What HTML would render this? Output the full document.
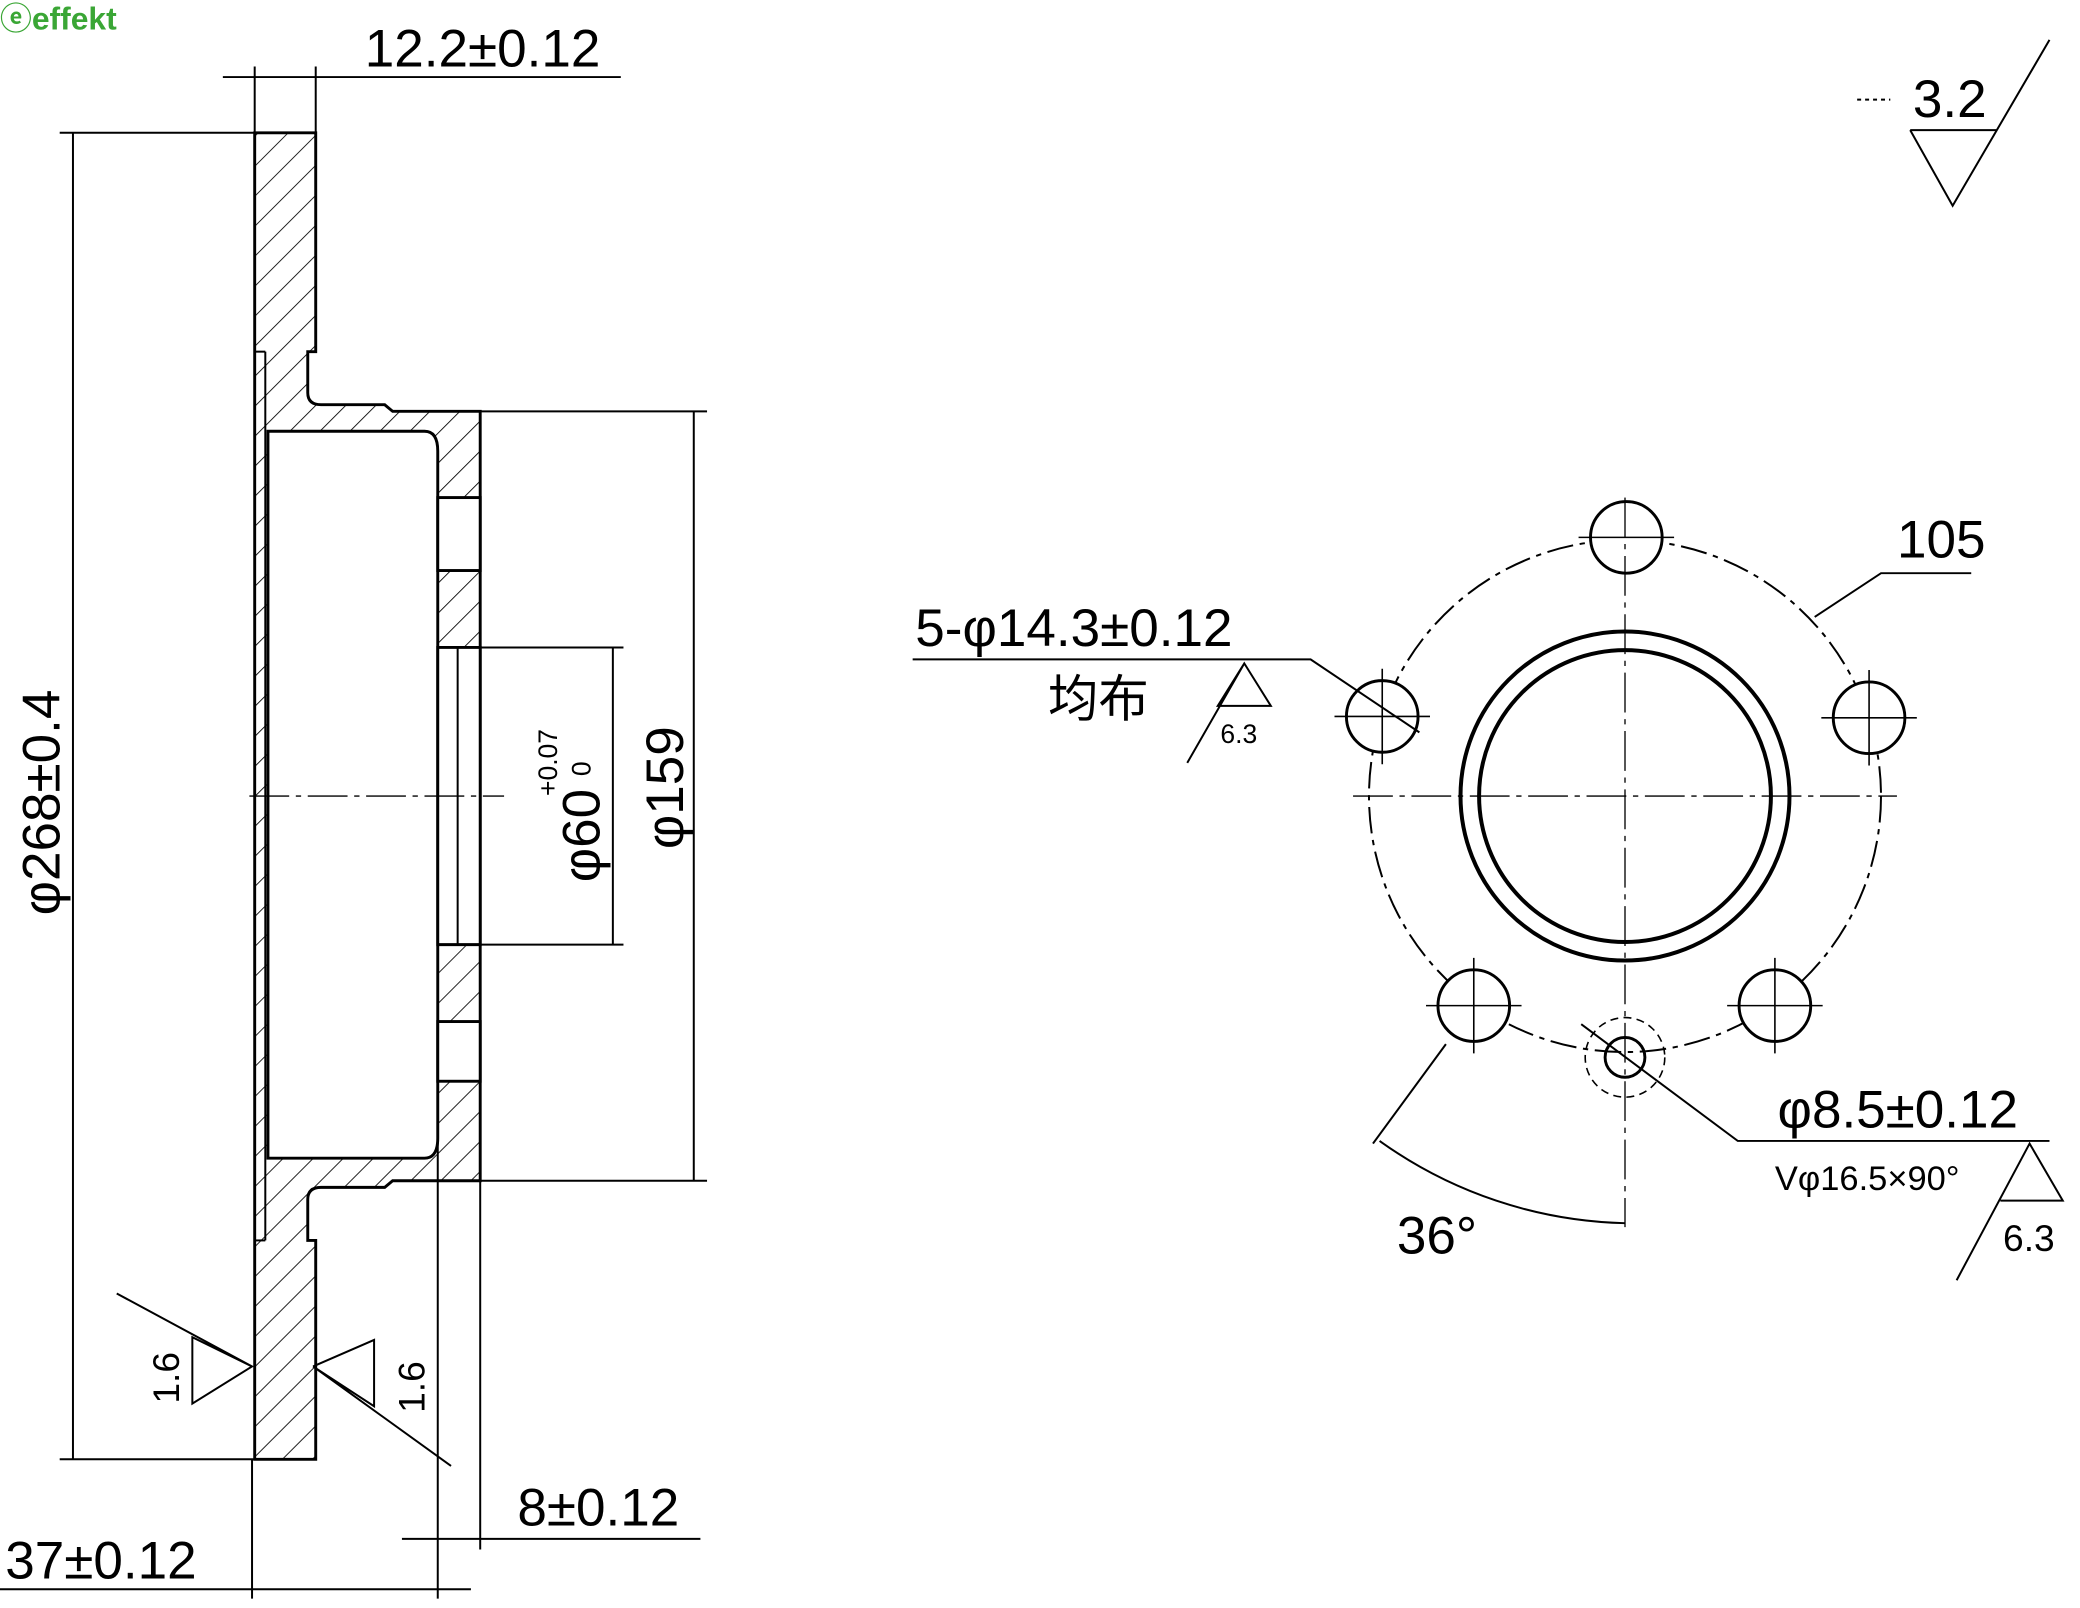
<!DOCTYPE html>
<html><head><meta charset="utf-8"><style>
html,body{margin:0;padding:0;background:#fff;}
svg{display:block;}
text{font-family:"Liberation Sans","Noto Sans CJK SC",sans-serif;fill:#000;}
</style></head><body>
<svg width="2080" height="1608" viewBox="0 0 1568 1212" xmlns="http://www.w3.org/2000/svg">
<defs>
<pattern id="h" patternUnits="userSpaceOnUse" width="16" height="16" patternTransform="rotate(45)">
<rect width="16" height="16" fill="#fff"/><line x1="0" y1="0" x2="0" y2="16" stroke="#000" stroke-width="1.3"/>
</pattern>
</defs>
<text x="0" y="22" font-size="24" font-weight="bold" style="fill:#3aa635">&#x24D4;effekt</text>

<g stroke="#000" stroke-width="2.2" fill="url(#h)">
<path d="M192,100 H238 V265 H232 V296 Q232,305 242,305 H290 L296,310 H362 V890 H296 L290,895 H242 Q232,895 232,904 V935 H238 V1100 H192 Z"/>
</g>
<g stroke="#000" stroke-width="2.2" fill="#fff">
<path d="M202,325 H320 Q330,325 330,340 V858 Q330,873 320,873 H202 Z"/>
<rect x="330" y="375" width="32" height="55"/>
<rect x="330" y="770" width="32" height="45"/>
<path d="M330,488 H362 V712 H330 Z"/>
</g>
<g stroke="#000" stroke-width="1.5" fill="none">
<line x1="200" y1="265" x2="200" y2="935"/>
<line x1="192" y1="265" x2="200" y2="265"/><line x1="192" y1="935" x2="200" y2="935"/>
<line x1="345" y1="488" x2="345" y2="712"/>
<line x1="330" y1="340" x2="330" y2="1205"/>
<line x1="362" y1="890" x2="362" y2="1168"/>
<line x1="190" y1="1100" x2="190" y2="1205"/>
<line x1="192" y1="50" x2="192" y2="100"/><line x1="238" y1="50" x2="238" y2="100"/>
<line x1="168" y1="58" x2="468" y2="58"/>
<line x1="45" y1="100" x2="192" y2="100"/><line x1="45" y1="1100" x2="192" y2="1100"/>
<line x1="55" y1="100" x2="55" y2="1100"/>
<line x1="362" y1="310" x2="533" y2="310"/><line x1="362" y1="890" x2="533" y2="890"/>
<line x1="523" y1="310" x2="523" y2="890"/>
<line x1="362" y1="488" x2="470" y2="488"/><line x1="362" y1="712" x2="470" y2="712"/>
<line x1="462" y1="488" x2="462" y2="712"/>
<line x1="0" y1="1198" x2="355" y2="1198"/>
<line x1="303" y1="1160" x2="528" y2="1160"/>
<line x1="188" y1="600" x2="380" y2="600" stroke-dasharray="30,5,4,5" stroke-width="1"/>
<path d="M88,975 L190,1030 L145,1058 V1008 L190,1030"/>
<path d="M340,1105 L236,1030 L282,1060 V1010 L236,1030"/>
</g>
<text x="275" y="50" font-size="40">12.2±0.12</text>
<text transform="translate(45,690) rotate(-90)" font-size="40">φ268±0.4</text>
<text transform="translate(515,640) rotate(-90)" font-size="40">φ159</text>
<text transform="translate(452,665) rotate(-90)" font-size="40">φ60</text>
<text transform="translate(420,600) rotate(-90)" font-size="20">+0.07</text>
<text transform="translate(445,585) rotate(-90)" font-size="20">0</text>
<text x="390" y="1150" font-size="40">8±0.12</text>
<text x="4" y="1190" font-size="40">37±0.12</text>
<text transform="translate(135,1058) rotate(-90)" font-size="28">1.6</text>
<text transform="translate(320,1065) rotate(-90)" font-size="28">1.6</text>

<g stroke="#000" stroke-width="1.5" fill="none">
<path d="M1440,98 L1472,155 L1545,30"/><line x1="1440" y1="98" x2="1505" y2="98"/>
<line x1="1400" y1="75" x2="1425" y2="75" stroke-dasharray="3,3"/>
</g>
<text x="1442" y="88" font-size="40">3.2</text>

<g stroke="#000" fill="none">
<circle cx="1225" cy="600" r="193" stroke-width="1.5" stroke-dasharray="20,5,4,5"/>
<circle cx="1225" cy="600" r="124" stroke-width="3"/>
<circle cx="1225" cy="600" r="110" stroke-width="3"/>
<g stroke-width="2.2" fill="#fff">
<circle cx="1226" cy="405" r="27"/><circle cx="1042" cy="540" r="27"/><circle cx="1409" cy="541" r="27"/>
<circle cx="1111" cy="758" r="27"/><circle cx="1338" cy="758" r="27"/>
</g>
<circle cx="1225" cy="797" r="15" stroke-width="2.2"/>
<circle cx="1225" cy="797" r="30" stroke-width="1.2" stroke-dasharray="6,4"/>
<g stroke-width="1" stroke-dasharray="30,5,4,5">
<line x1="1020" y1="600" x2="1430" y2="600"/><line x1="1225" y1="375" x2="1225" y2="925"/>
</g>
<g stroke-width="1.2">
<line x1="1190" y1="405" x2="1262" y2="405"/><line x1="1006" y1="540" x2="1078" y2="540"/><line x1="1042" y1="504" x2="1042" y2="576"/>
<line x1="1373" y1="541" x2="1445" y2="541"/><line x1="1409" y1="505" x2="1409" y2="577"/>
<line x1="1075" y1="758" x2="1147" y2="758"/><line x1="1111" y1="722" x2="1111" y2="794"/>
<line x1="1302" y1="758" x2="1374" y2="758"/><line x1="1338" y1="722" x2="1338" y2="794"/>
</g>
<g stroke-width="1.5">
<path d="M688,497 H988 L1070,552"/>
<path d="M895,575 L938,500 L958,532 H918 L938,500"/>
<path d="M1368,465 L1418,432 H1486"/>
<path d="M1090,787 L1035,862"/>
<path d="M1040,860 A330,330 0 0 0 1225,922"/>
<path d="M1192,772 L1310,860 H1545"/>
<path d="M1475,965 L1530,862 L1555,905 H1508"/>
</g>
</g>
<text x="690" y="487" font-size="40">5-φ14.3±0.12</text>
<text x="790" y="540" font-size="38">均布</text>
<text x="920" y="560" font-size="20">6.3</text>
<text x="1430" y="420" font-size="40">105</text>
<text x="1340" y="850" font-size="40">φ8.5±0.12</text>
<text x="1338" y="897" font-size="26">Vφ16.5×90°</text>
<text x="1510" y="943" font-size="28">6.3</text>
<text x="1053" y="945" font-size="40">36°</text>
</svg>
</body></html>
